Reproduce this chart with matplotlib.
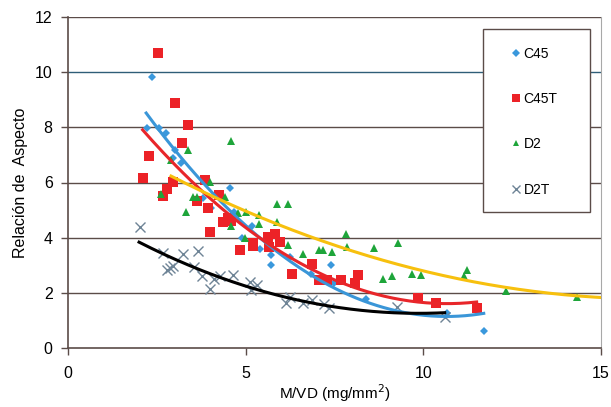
import numpy as np
import matplotlib
matplotlib.use("Agg")
import matplotlib.pyplot as plt
from matplotlib.patches import Rectangle

plt.rcParams.update({
    "font.family": ["Liberation Sans", "DejaVu Sans"],
    "font.size": 11,
})

# ----------------------------------------------------------------------
# Data (M/VD in mg/mm2, aspect ratio)
# ----------------------------------------------------------------------
c45_x = [2.21, 2.36, 2.56, 2.76, 2.96, 3.01, 3.17, 3.81, 4.02, 4.56, 4.67, 4.89,
         5.17, 5.40, 5.72, 5.71, 6.25, 6.83, 7.39, 7.48, 8.40, 9.85, 10.66, 11.70]
c45_y = [7.98, 9.83, 7.98, 7.78, 6.88, 7.17, 6.69, 5.42, 5.06, 5.80, 4.92, 4.00,
         4.42, 3.59, 3.37, 3.02, 3.29, 2.67, 3.01, 2.34, 1.78, 1.82, 1.26, 0.60]

c45t_x = [2.10, 2.29, 2.54, 2.68, 2.80, 2.95, 3.01, 3.20, 3.39, 3.64, 3.86, 3.95,
          4.00, 4.25, 4.35, 4.51, 4.60, 4.85, 5.20, 5.22, 5.64, 5.67, 5.83, 5.97,
          6.30, 6.86, 7.05, 7.30, 7.68, 8.07, 8.15, 9.85, 10.35, 11.50]
c45t_y = [6.15, 6.96, 10.71, 5.50, 5.75, 6.03, 8.89, 7.44, 8.09, 5.32, 6.09, 5.09,
          4.20, 5.55, 4.58, 4.73, 4.60, 3.54, 3.70, 3.82, 4.03, 3.67, 4.15, 3.83,
          2.68, 3.05, 2.47, 2.47, 2.46, 2.37, 2.66, 1.80, 1.63, 1.46]

d2_x = [2.61, 2.89, 3.32, 3.39, 3.52, 3.63, 4.00, 4.43, 4.58, 4.60, 4.78, 4.98,
        5.01, 5.38, 5.38, 5.87, 5.87, 6.20, 6.18, 6.60, 7.07, 7.17, 7.42, 7.81,
        7.84, 8.62, 8.87, 9.13, 9.30, 9.67, 9.94, 11.14, 11.22, 12.32, 14.33]
d2_y = [5.60, 6.81, 4.92, 7.17, 5.46, 5.46, 6.01, 5.47, 7.51, 4.43, 4.88, 4.00,
        4.94, 4.82, 4.48, 4.55, 5.22, 5.22, 3.73, 3.41, 3.56, 3.56, 3.48, 4.15,
        3.65, 3.63, 2.51, 2.60, 3.80, 2.68, 2.64, 2.62, 2.83, 2.08, 1.86]

d2t_x = [2.02, 2.68, 2.78, 2.87, 2.96, 3.23, 3.67, 3.56, 3.78, 3.99, 4.12, 4.28,
         4.63, 5.13, 5.33, 5.16, 6.24, 6.14, 6.60, 6.87, 7.21, 7.35, 9.26, 10.62]
d2t_y = [4.40, 3.45, 2.84, 2.90, 2.98, 3.41, 3.51, 2.94, 2.61, 2.15, 2.49, 2.60,
         2.63, 2.38, 2.28, 2.10, 1.86, 1.64, 1.62, 1.73, 1.60, 1.44, 1.50, 1.12]

# x span over which each 2nd-order trend line is drawn
trend_span = {"C45": (2.2, 11.7), "C45T": (2.1, 11.5),
              "D2": (2.9, 15.0), "D2T": (2.0, 10.6)}

series = [
    # name, x, y, marker, size, colour, trend colour
    ("C45", c45_x, c45_y, "D", 4.5, "#3a98dc", "#3a96d8"),
    ("C45T", c45t_x, c45t_y, "s", 6.5, "#ec2227", "#e8262a"),
    ("D2", d2_x, d2_y, "^", 5.5, "#1ea53a", "#f7c00e"),
    ("D2T", d2t_x, d2t_y, "x", 6.5, "#6e8496", "#000000"),
]

fig = plt.figure(figsize=(6.11, 4.07), dpi=100)
ax = fig.add_axes([68 / 611, 59 / 407, 533 / 611, 331 / 407])

for y in [2, 4, 6, 8, 12]:
    ax.axhline(y, color="#5b4c48", lw=1.0, zorder=1)
ax.axhline(10, color="#2f5e78", lw=1.0, zorder=1)

for name, x, y, mk, ms, col, tcol in series:
    if mk == "x":
        ax.plot(x, y, ls="none", marker=mk, ms=ms, mew=1.0, color=col,
                label=name, zorder=3)
    else:
        ax.plot(x, y, ls="none", marker=mk, ms=ms, mew=0, color=col,
                label=name, zorder=3)

for name, x, y, mk, ms, col, tcol in series:
    coef = np.polyfit(x, y, 2)
    xs = np.linspace(*trend_span[name], 200)
    ax.plot(xs, np.polyval(coef, xs), color=tcol, lw=2.2, zorder=4)

ax.set_xlim(0, 15)
ax.set_ylim(0, 12)
ax.set_xticks([0, 5, 10, 15])
ax.set_yticks(range(0, 13, 2))
ax.tick_params(direction="out", length=5, width=1, color="#5b4c48",
               labelsize=11.5)
ax.tick_params(axis="x", pad=8)
ax.tick_params(axis="y", pad=6)
ax.spines["top"].set_visible(False)
ax.spines["right"].set_color("#a8a8a8")
ax.spines["left"].set_color("#5b4c48")
ax.spines["bottom"].set_color("#5b4c48")
ax.spines["left"].set_linewidth(1.2)
ax.spines["bottom"].set_linewidth(1.2)

ax.set_xlabel("M/VD (mg/mm$^2$)", fontsize=11, labelpad=1)
ax.set_ylabel("Relación de  Aspecto", fontsize=11.5, labelpad=5)

# legend box (Excel-style, wider than its content)
ax.add_patch(Rectangle((0.7786, 0.4109), 0.2008, 0.5528, transform=ax.transAxes,
                       facecolor="white", edgecolor="#5b4c48", lw=1.0,
                       zorder=6, clip_on=False))
leg = ax.legend(loc="upper left", bbox_to_anchor=(0.831, 0.91),
                frameon=False, fontsize=10, labelspacing=2.25,
                borderpad=0, handlelength=0.7, handletextpad=0.2,
                borderaxespad=0, markerscale=0.85)
leg.set_zorder(7)

fig.savefig("out.png", dpi=100)
